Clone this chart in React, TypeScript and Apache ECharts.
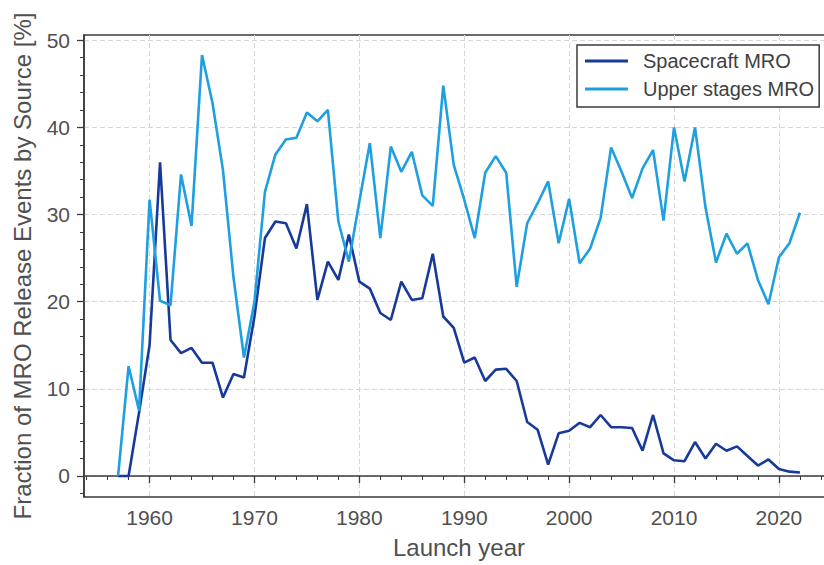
import React, { useEffect, useRef } from "react";
import * as echarts from "echarts";

const years: number[] = [];
for (let y = 1957; y <= 2022; y++) years.push(y);

const spacecraftMRO = [
  0, 0, 7.3, 15.0, 36.0, 15.6, 14.1, 14.7, 13.0, 13.0,
  9.0, 11.7, 11.3, 18.3, 27.3, 29.2, 29.0, 26.1, 31.2, 20.2,
  24.6, 22.5, 27.7, 22.3, 21.5, 18.7, 17.9, 22.3, 20.2, 20.4,
  25.5, 18.3, 17.0, 13.0, 13.6, 10.9, 12.2, 12.3, 10.9, 6.2,
  5.3, 1.3, 4.9, 5.2, 6.1, 5.6, 7.0, 5.6, 5.6, 5.5,
  2.9, 7.0, 2.6, 1.8, 1.7, 3.9, 2.0, 3.7, 2.9, 3.4,
  2.3, 1.2, 1.9, 0.8, 0.5, 0.4,
];

const upperStagesMRO = [
  0, 12.6, 7.5, 31.7, 20.1, 19.6, 34.6, 28.7, 48.3, 42.8,
  35.1, 22.8, 13.6, 20.0, 32.6, 36.9, 38.6, 38.8, 41.7, 40.7,
  42.0, 29.2, 24.6, 31.5, 38.2, 27.3, 37.8, 34.9, 37.2, 32.2,
  31.0, 44.8, 35.7, 31.7, 27.3, 34.8, 36.7, 34.8, 21.7, 29.0,
  31.3, 33.8, 26.7, 31.8, 24.4, 26.1, 29.6, 37.7, 34.9, 31.9,
  35.3, 37.4, 29.3, 40.0, 33.8, 40.0, 30.8, 24.5, 27.8, 25.5,
  26.7, 22.5, 19.7, 25.1, 26.7, 30.2,
];

const xTickLabels = [1960, 1970, 1980, 1990, 2000, 2010, 2020];
const yTickLabels = [0, 10, 20, 30, 40, 50];

const FONT = '"Liberation Sans", Arial, sans-serif';
const DARK = "#17399a";
const LIGHT = "#1e9fe0";
const FRAME = "#3a3a3a";
const TEXT = "#505050";

export default function App() {
  const ref = useRef<HTMLDivElement>(null);
  useEffect(() => {
    document.body.style.margin = "0";
    if (!ref.current) return;
    const chart = echarts.init(ref.current, undefined, { renderer: "svg" });
    chart.setOption({
      animation: false,
      backgroundColor: "#ffffff",
      grid: {
        left: 84,
        top: 35,
        width: 750,
        height: 462,
        containLabel: false,
        outerBoundsMode: "none",
        show: true,
        borderColor: FRAME,
        borderWidth: 1.5,
        backgroundColor: "transparent",
      },
      legend: {
        orient: "vertical",
        left: 577,
        top: 45,
        padding: [6, 5, 8, 8],
        itemGap: 8,
        itemWidth: 43,
        itemHeight: 3,
        icon: "rect",
        backgroundColor: "#ffffff",
        borderColor: FRAME,
        borderWidth: 1.5,
        borderRadius: 0,
        textStyle: {
          fontFamily: FONT,
          fontSize: 20,
          color: "#404040",
          padding: [0, 0, 0, 10],
        },
        data: ["Spacecraft MRO", "Upper stages MRO"],
      },
      xAxis: {
        type: "value",
        min: 1953.75,
        max: 2025.25,
        splitNumber: 7,
        name: "Launch year",
        nameLocation: "middle",
        nameGap: 38,
        nameTextStyle: { fontFamily: FONT, fontSize: 24, color: TEXT },
        axisLine: { show: true, lineStyle: { color: FRAME, width: 1.5 } },
        axisTick: {
          show: true,
          length: 7,
          customValues: xTickLabels,
          lineStyle: { color: FRAME, width: 1.3 },
        },
        minorTick: {
          show: true,
          splitNumber: 5,
          length: 4,
          lineStyle: { color: FRAME, width: 1 },
        },
        axisLabel: {
          customValues: xTickLabels,
          fontFamily: FONT,
          fontSize: 21,
          color: TEXT,
          margin: 10,
          formatter: (v: number) => (v % 10 === 0 ? String(v) : ""),
        },
        splitLine: {
          show: true,
          lineStyle: { color: "#d6d6d6", type: [5, 3], width: 1 },
        },
      },
      yAxis: {
        type: "value",
        min: -2.41,
        max: 50.6,
        splitNumber: 5,
        name: "Fraction of MRO Release Events by Source [%]",
        nameLocation: "middle",
        nameGap: 50,
        nameTextStyle: { fontFamily: FONT, fontSize: 24, color: TEXT },
        axisLine: { show: true, lineStyle: { color: FRAME, width: 1.5 } },
        axisTick: {
          show: true,
          length: 7,
          customValues: yTickLabels,
          lineStyle: { color: FRAME, width: 1.3 },
        },
        minorTick: {
          show: true,
          splitNumber: 5,
          length: 4,
          lineStyle: { color: FRAME, width: 1 },
        },
        axisLabel: {
          customValues: yTickLabels,
          fontFamily: FONT,
          fontSize: 21,
          color: TEXT,
          margin: 14,
          formatter: (v: number) => (v % 10 === 0 ? String(v) : ""),
        },
        splitLine: {
          show: true,
          lineStyle: { color: "#d6d6d6", type: [5, 3], width: 1 },
        },
      },
      series: [
        {
          name: "Spacecraft MRO",
          type: "line",
          data: years.map((y, i) => [y, spacecraftMRO[i]]),
          symbol: "none",
          color: DARK,
          lineStyle: { color: DARK, width: 2.6 },
        },
        {
          name: "Upper stages MRO",
          type: "line",
          data: years.map((y, i) => [y, upperStagesMRO[i]]),
          symbol: "none",
          color: LIGHT,
          lineStyle: { color: LIGHT, width: 2.6 },
        },
      ],
    });
    return () => chart.dispose();
  }, []);
  return <div ref={ref} style={{ width: 824, height: 565 }} />;
}
